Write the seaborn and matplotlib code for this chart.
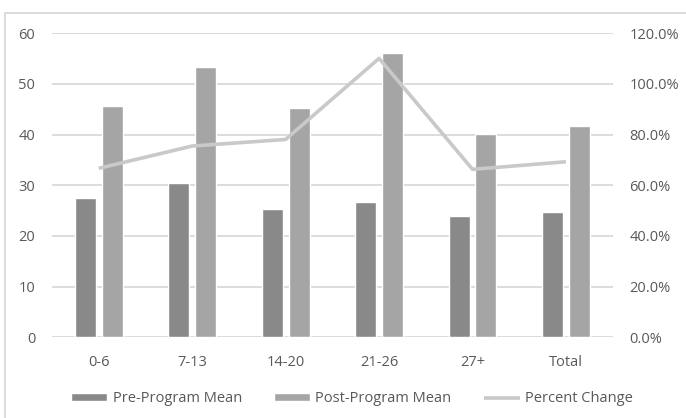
import numpy as np
import pandas as pd
import matplotlib
matplotlib.use("Agg")
import matplotlib.pyplot as plt
from matplotlib.patches import Rectangle
from matplotlib.ticker import FuncFormatter
import seaborn as sns

# Age groups and program means
categories = ["0-6", "7-13", "14-20", "21-26", "27+", "Total"]
pre_mean = [27.4, 30.5, 25.3, 26.7, 24.0, 24.7]
post_mean = [45.6, 53.3, 45.2, 56.1, 40.1, 41.7]
pct_change = [0.667, 0.755, 0.781, 1.101, 0.663, 0.693]

left_ticks = [0, 10, 20, 30, 40, 50, 60]
right_ticks = [0.0, 0.2, 0.4, 0.6, 0.8, 1.0, 1.2]

PRE_COLOR = "#898989"
POST_COLOR = "#a5a5a5"
LINE_COLOR = "#c9c9c9"
TEXT_COLOR = "#595959"
GRID_COLOR = "#d9d9d9"

sns.set_style("white")
plt.rcParams["font.family"] = ["Open Sans", "DejaVu Sans"]
plt.rcParams["font.size"] = 10.5
plt.rcParams["text.color"] = TEXT_COLOR

df = pd.DataFrame({
    "Group": categories * 2,
    "Mean": pre_mean + post_mean,
    "Period": ["Pre-Program Mean"] * len(categories) + ["Post-Program Mean"] * len(categories),
})

fig = plt.figure(figsize=(6.86, 4.18), dpi=100)
ax = fig.add_axes([52 / 686, 1 - 337.3 / 418, (612.7 - 52) / 686, (337.3 - 33.3) / 418])

sns.barplot(
    data=df, x="Group", y="Mean", hue="Period", order=categories,
    palette={"Pre-Program Mean": PRE_COLOR, "Post-Program Mean": POST_COLOR},
    width=0.573, gap=0.215, saturation=1, ax=ax, zorder=2,
)

ax.set_ylim(0, 60)
ax.set_xlim(-0.5, 5.5)
ax.set_yticks(left_ticks)
ax.yaxis.grid(True, color=GRID_COLOR, linewidth=1.3, zorder=0)
ax.set_axisbelow(True)
for s in ax.spines.values():
    s.set_visible(False)
ax.set_xlabel("")
ax.set_ylabel("")
ax.tick_params(axis="both", length=0, colors=TEXT_COLOR, labelsize=10.5)
ax.tick_params(axis="x", pad=12.5)
ax.tick_params(axis="y", pad=12)

ax2 = ax.twinx()
sns.lineplot(
    x=np.arange(len(categories)), y=pct_change, ax=ax2,
    color=LINE_COLOR, linewidth=2.6, label="Percent Change",
    solid_capstyle="butt", solid_joinstyle="round",
)
ax2.set_ylim(0, 1.2)
ax2.set_yticks(right_ticks)
ax2.yaxis.set_major_formatter(FuncFormatter(lambda v, p: f"{v * 100:.1f}%"))
ax2.tick_params(axis="y", length=0, colors=TEXT_COLOR, labelsize=10.5, pad=12)
for s in ax2.spines.values():
    s.set_visible(False)
ax2.set_ylabel("")

h1, l1 = ax.get_legend_handles_labels()
h2, l2 = ax2.get_legend_handles_labels()
if ax.get_legend() is not None:
    ax.get_legend().remove()
if ax2.get_legend() is not None:
    ax2.get_legend().remove()

fig.legend(
    h1 + h2, l1 + l2, loc="center", bbox_to_anchor=(352 / 686, 1 - 399 / 418),
    ncol=3, frameon=False, handlelength=2.5, handleheight=0.5,
    handletextpad=0.35, columnspacing=2.2, fontsize=10.5, labelcolor=TEXT_COLOR,
)

# Chart frame
fig.add_artist(Rectangle(
    (4.5 / 686, -0.2), 2.0, (418 - 13) / 418 + 0.2, transform=fig.transFigure,
    fill=False, edgecolor=GRID_COLOR, linewidth=1.3,
))

fig.savefig("out.png", dpi=100)
